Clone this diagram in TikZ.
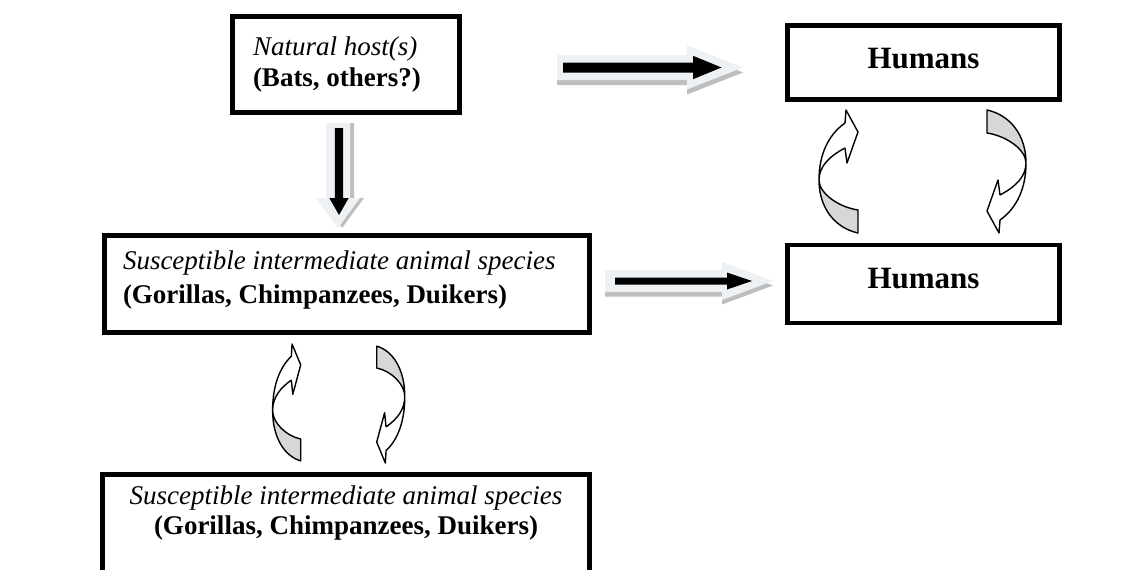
\documentclass[tikz,border=0pt]{standalone}
\usepackage{fontspec}
\setmainfont{Liberation Serif}
\definecolor{lightarr}{RGB}{238,241,244}
\definecolor{shadowgray}{RGB}{190,190,190}
\definecolor{twistgray}{RGB}{215,215,215}
\tikzset{
  box/.style={draw=black, line width=4.5pt, outer sep=0pt, inner sep=0pt, fill=white},
  txt/.style={inner sep=0pt, outer sep=0pt, font=\fontsize{27}{30}\selectfont},
  humtxt/.style={inner sep=0pt, outer sep=0pt, font=\fontsize{31}{36}\selectfont\bfseries},
  curvline/.style={draw=black, line width=1.4pt, line join=round},
  curvarr/.pic={
    \fill[white] (-13,13) .. controls (-30,25) and (-39,45) .. (-39,70)
      .. controls (-39,56) and (-28,46) .. (-13,38) -- (-11,53) -- (0,22) -- (-12,0) -- cycle;
    \fill[twistgray] (-39,70) .. controls (-39,98) and (-23,118) .. (0,123) -- (0,100)
      .. controls (-20,97) and (-39,83) .. (-39,70) -- cycle;
    \draw[curvline] (-13,38) -- (-11,53) -- (0,22) -- (-12,0) -- (-13,13)
      .. controls (-30,25) and (-39,45) .. (-39,70)
      .. controls (-39,98) and (-23,118) .. (0,123) -- (0,100)
      .. controls (-20,97) and (-39,83) .. (-39,70)
      .. controls (-39,56) and (-28,46) .. (-13,38);
  },
}
\begin{document}
\begin{tikzpicture}[x=1pt,y=-1pt]
\clip (0,0) rectangle (1138,570);
\useasboundingbox (0,0) rectangle (1138,570);
\fill[white] (0,0) rectangle (1138,570);

% boxes
\node[box, minimum width=227pt, minimum height=96pt] (nat) at (346,64.5) {};
\node[box, minimum width=272pt, minimum height=74pt] (hum1) at (923.5,62.5) {};
\node[box, minimum width=272pt, minimum height=78pt] (hum2) at (923.5,284) {};
\node[box, minimum width=485pt, minimum height=97pt] (sus1) at (347,284) {};
\node[box, minimum width=487pt, minimum height=130pt] (sus2) at (346,539.5) {};

% texts
\node[txt, anchor=west, align=left] (natt) at ([xshift=20.5pt]nat.west)
  {\textit{Natural host(s)}\\[1.7pt]\textbf{(Bats, others?)}};
\node[txt, anchor=west, align=left] (sus1t) at ([xshift=18.5pt, yshift=4pt]sus1.west)
  {\textit{Susceptible intermediate animal species}\\[3.3pt]\textbf{(Gorillas, Chimpanzees, Duikers)}};
\node[txt, align=center] (sus2t) at ([yshift=-38.7pt]sus2.north)
  {\textit{Susceptible intermediate animal species}\\\textbf{(Gorillas, Chimpanzees, Duikers)}};
\node[humtxt] (hum1t) at ([yshift=4pt]hum1.center) {Humans};
\node[humtxt] (hum2t) at ([yshift=5pt]hum2.center) {Humans};

% block arrows
\coordinate (ba1) at (557,67.5);
\begin{scope}[shift={(ba1)}]
  \fill[shadowgray] (0,-7.5) -- (130,-7.5) -- (130,-17) -- (186,5) -- (130,27) -- (130,17.5) -- (0,17.5) -- cycle;
  \fill[lightarr] (0,-12.5) -- (130,-12.5) -- (130,-22) -- (186,0) -- (130,22) -- (130,12.5) -- (0,12.5) -- cycle;
  \fill[black] (6,-5) -- (136,-5) -- (136,-11.7) -- (164.5,0) -- (136,11.7) -- (136,5) -- (6,5) -- cycle;
\end{scope}

\coordinate (ba2) at (605,281);
\begin{scope}[shift={(ba2)}]
  \fill[shadowgray] (0,-6.5) -- (117,-6.5) -- (117,-14.5) -- (168,4.5) -- (117,23.5) -- (117,15.5) -- (0,15.5) -- cycle;
  \fill[lightarr] (0,-11) -- (117,-11) -- (117,-19) -- (168,0) -- (117,19) -- (117,11) -- (0,11) -- cycle;
  \fill[black] (10,-3.5) -- (122,-3.5) -- (122,-8.5) -- (147,0) -- (122,8.5) -- (122,3.5) -- (10,3.5) -- cycle;
\end{scope}

\coordinate (ba3) at (338,123);
\begin{scope}[shift={(ba3)}]
  \fill[shadowgray] (-8,0) -- (-8,75) -- (-18,75) -- (4,105) -- (26,75) -- (16,75) -- (16,0) -- cycle;
  \fill[lightarr] (-12,0) -- (-12,75) -- (-22,75) -- (0,105) -- (22,75) -- (12,75) -- (12,0) -- cycle;
  \fill[black] (-3.2,5) -- (-3.2,75) -- (-8.7,75) -- (1,92) -- (10.7,75) -- (5.2,75) -- (5.2,5) -- cycle;
\end{scope}

% curved (twisted) arrows
\pic at (858,110) {curvarr};
\pic[rotate=180] at (987,233) {curvarr};
\pic[xscale=.72, yscale=.95] at (300.7,344) {curvarr};
\pic[rotate=180, xscale=.72, yscale=.95] at (376.7,463) {curvarr};
\end{tikzpicture}
\end{document}
